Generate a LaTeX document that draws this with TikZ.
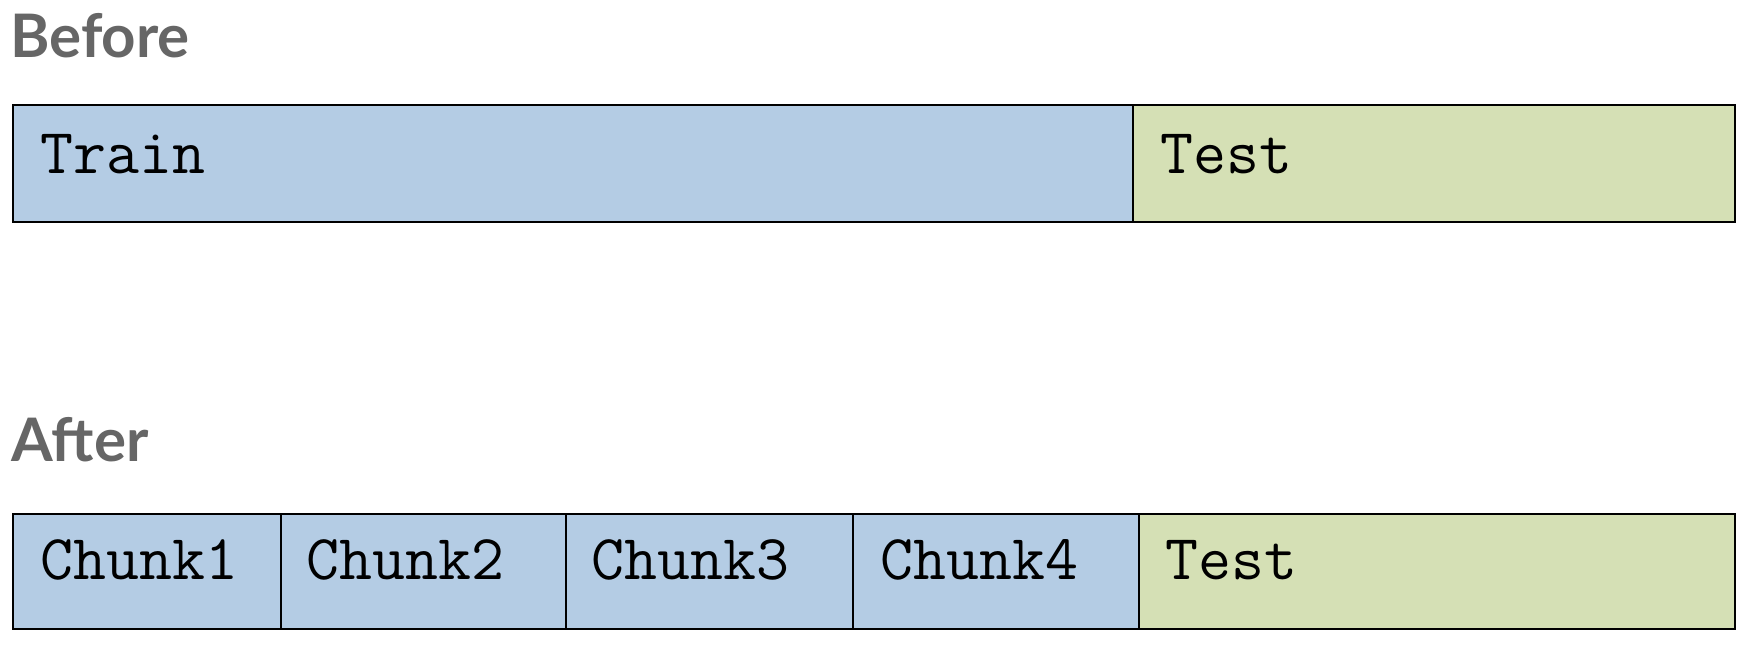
\documentclass[tikz,border=0pt]{standalone}
\usepackage{fontspec}
\newfontfamily\headfont{Lato}
\definecolor{trainblue}{HTML}{B4CCE4}
\definecolor{testgreen}{HTML}{D5E0B5}
\definecolor{headgrey}{HTML}{666666}
\begin{document}
\begin{tikzpicture}[x=0.5pt,y=-0.5pt,
  seg/.style={draw=black, line width=1pt, inner sep=0pt, outer sep=0pt, anchor=north west},
  lbl/.style={anchor=base west, inner sep=0pt, font=\ttfamily\fontsize{32}{38}\selectfont},
  head/.style={anchor=base west, inner sep=0pt, text=headgrey, font=\headfont\bfseries\fontsize{30}{36}\selectfont}]
\useasboundingbox (0,0) rectangle (1756,652);
% Before
\node[head] (hbefore) at (10,58) {Before};
\node[seg, fill=trainblue, minimum width=560pt, minimum height=58.5pt] (train) at (13,105) {};
\node[seg, fill=testgreen, minimum width=301pt, minimum height=58.5pt] (test1) at (1133,105) {};
\node[lbl] (ttrain) at (40,174) {Train};
\node[lbl] (ttest1) at (1160,174) {Test};
% After
\node[head] (hafter) at (11,461) {After};
\node[seg, fill=trainblue, minimum width=134pt, minimum height=57.5pt] (c1) at (13,514) {};
\node[seg, fill=trainblue, minimum width=142.5pt, minimum height=57.5pt] (c2) at (281,514) {};
\node[seg, fill=trainblue, minimum width=143.5pt, minimum height=57.5pt] (c3) at (566,514) {};
\node[seg, fill=trainblue, minimum width=143pt, minimum height=57.5pt] (c4) at (853,514) {};
\node[seg, fill=testgreen, minimum width=298pt, minimum height=57.5pt] (test2) at (1139,514) {};
\node[lbl] (tc1) at (40,579) {Chunk1};
\node[lbl] (tc2) at (306,579) {Chunk2};
\node[lbl] (tc3) at (591,579) {Chunk3};
\node[lbl] (tc4) at (880,579) {Chunk4};
\node[lbl] (ttest2) at (1165,579) {Test};
\end{tikzpicture}
\end{document}
